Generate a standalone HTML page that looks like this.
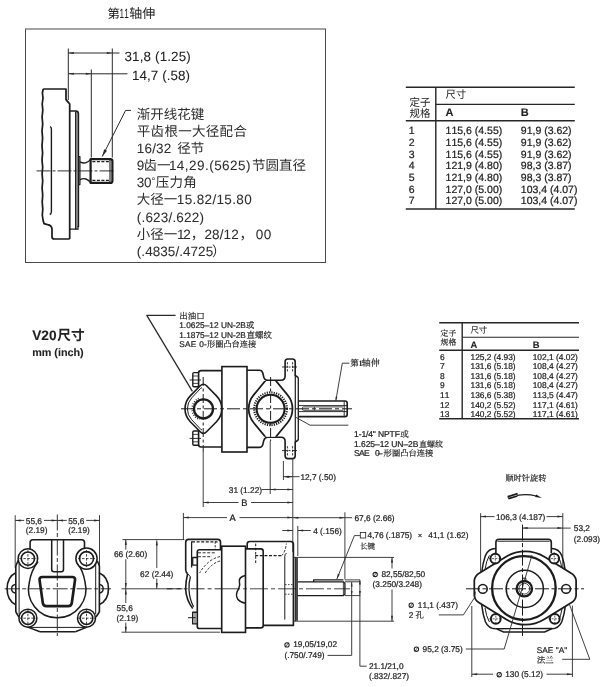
<!DOCTYPE html>
<html><head><meta charset="utf-8"><title>V20</title>
<style>
html,body{margin:0;padding:0;background:#fff;}
body{width:612px;height:687px;overflow:hidden;}
svg{display:block;will-change:transform;}
svg text{font-family:"Liberation Sans","Noto Sans CJK SC",sans-serif;font-kerning:none;text-rendering:geometricPrecision;}
svg text.s{font-family:"Liberation Sans","Noto Serif CJK SC",serif;}
</style></head><body>
<svg width="612" height="687" viewBox="0 0 612 687">
<rect width="612" height="687" fill="#fff"/>
<text x="107.5" y="17.6" font-size="12.4" fill="#222">第</text>
<text x="119.6" y="17.6" font-size="13.4" textLength="9.2" lengthAdjust="spacingAndGlyphs" fill="#222">11</text>
<text x="129.3" y="17.6" font-size="13" fill="#222">轴伸</text>
<rect x="25.5" y="29" width="300" height="233.5" rx="0" fill="none" stroke="#4a4a4a" stroke-width="1"/>
<line x1="68.3" y1="48.5" x2="68.3" y2="100" stroke="#2a2a2a" stroke-width="1"/>
<line x1="112.3" y1="48.5" x2="112.3" y2="157.5" stroke="#2a2a2a" stroke-width="1"/>
<line x1="91.3" y1="69.5" x2="91.3" y2="157.5" stroke="#2a2a2a" stroke-width="1"/>
<line x1="68.3" y1="53" x2="119.5" y2="53" stroke="#2a2a2a" stroke-width="1"/>
<polygon points="68.3,53 73.8,52 73.8,54" fill="#2a2a2a"/>
<polygon points="112.3,53 106.8,54 106.8,52" fill="#2a2a2a"/>
<line x1="68.3" y1="73.8" x2="127.5" y2="73.8" stroke="#2a2a2a" stroke-width="1"/>
<polygon points="68.3,73.8 73.8,72.8 73.8,74.8" fill="#2a2a2a"/>
<polygon points="91.3,73.8 85.8,74.8 85.8,72.8" fill="#2a2a2a"/>
<text x="124.5" y="60.61" font-size="13.4" letter-spacing="0.15" fill="#222" stroke="#222" stroke-width="0.05" xml:space="preserve">31,8 (1.25)</text>
<text x="132" y="79.81" font-size="13.4" letter-spacing="0.07" fill="#222" stroke="#222" stroke-width="0.05" xml:space="preserve">14,7 (.58)</text>
<path d="M43.2,89 L42.4,93 L43,98 L42.2,104 L42.8,110 L42.1,117 L42.7,124 L42,131 L42.6,138 L42,146 L42.6,153 L42,160 L42.7,167 L42.1,174 L42.7,181 L42.1,188 L42.7,195 L42.2,202 L42.8,209 L42.3,215 L43,220 L44,223.6 L47.5,224.6 Q51.8,225.2 52,229 L52,237 Q52,239 54.5,239 L69.7,239" fill="none" stroke="#1c1c1c" stroke-width="1.74" stroke-linejoin="round"/>
<path d="M43.2,89 H66 V99.6 L68.4,102.4 L69.7,104 V239" fill="none" stroke="#1c1c1c" stroke-width="1.74" stroke-linejoin="round"/>
<path d="M69.7,111 H75.8 Q78.3,111 78.3,113.5 V227 " fill="none" stroke="#1c1c1c" stroke-width="1.74" stroke-linejoin="round"/>
<path d="M75.8,111.5 V229.2 " fill="none" stroke="#1c1c1c" stroke-width="1.51" stroke-linejoin="round"/>
<path d="M69.7,229.2 H78 V226" fill="none" stroke="#1c1c1c" stroke-width="1.28" stroke-linejoin="round"/>
<path d="M50,126.6 Q51.4,127 51.4,129 V211.5 Q51.4,213.6 49.8,214.6" fill="none" stroke="#1c1c1c" stroke-width="1.39" stroke-linejoin="round"/>
<path d="M78.3,156.6 H79.9 V184.6 H78.3" fill="none" stroke="#1c1c1c" stroke-width="1.28" stroke-linejoin="round"/>
<path d="M79.9,161.8 Q83.5,163.6 86,162.6 Q88.5,161.8 90.6,159.4" fill="none" stroke="#1c1c1c" stroke-width="1.39" stroke-linejoin="round"/>
<path d="M79.9,179.6 Q83.5,178 86,179 Q88.5,179.8 90.6,182.6" fill="none" stroke="#1c1c1c" stroke-width="1.39" stroke-linejoin="round"/>
<path d="M90.6,159.1 H110.4 Q112.4,159.1 112.4,161.1 V180.9 Q112.4,182.9 110.4,182.9 H90.6 Z" fill="none" stroke="#1c1c1c" stroke-width="2.2" stroke-linejoin="round"/>
<line x1="92.4" y1="161.7" x2="109.5" y2="161.7" stroke="#1c1c1c" stroke-width="1.3" stroke-dasharray="3 1.5"/>
<line x1="92.4" y1="180.3" x2="109.5" y2="180.3" stroke="#1c1c1c" stroke-width="1.3" stroke-dasharray="3 1.5"/>
<line x1="110" y1="160" x2="110" y2="182" stroke="#1c1c1c" stroke-width="1.1"/>
<line x1="36.5" y1="170.9" x2="115.5" y2="170.9" stroke="#1c1c1c" stroke-width="0.9" stroke-dasharray="14 2 3 2"/>
<path d="M131,110.4 H125.6 L102.2,156.6" fill="none" stroke="#2a2a2a" stroke-width="1" stroke-linejoin="round"/>
<polygon points="102.2,156.6 104.16,149.19 107.02,150.63" fill="#2a2a2a"/>
<text x="136.8" y="118.64" font-size="13.5" fill="#2e2e2e">渐开线花键</text>
<text x="136.8" y="135.79" font-size="13.5" letter-spacing="0.3" fill="#2e2e2e">平齿根一大径配合</text>
<text x="136.8" y="152.94" font-size="13.5" letter-spacing="0.18" fill="#2e2e2e" stroke="#2e2e2e" stroke-width="0.05" xml:space="preserve">16/32</text>
<text x="177.3" y="152.94" font-size="13.5" fill="#2e2e2e">径节</text>
<text x="136.8" y="170.09" font-size="13.5" fill="#2e2e2e" stroke="#2e2e2e" stroke-width="0.05" xml:space="preserve">9</text>
<text x="143.4" y="170.09" font-size="13.5" fill="#2e2e2e">齿一</text>
<text x="168.9" y="170.09" font-size="13.5" letter-spacing="0.46" fill="#2e2e2e" stroke="#2e2e2e" stroke-width="0.05" xml:space="preserve">14,29.(5625)</text>
<text x="252" y="170.09" font-size="13.5" fill="#2e2e2e">节圆直径</text>
<text x="136.8" y="187.24" font-size="13.5" letter-spacing="-0.22" fill="#2e2e2e" stroke="#2e2e2e" stroke-width="0.05" xml:space="preserve">30</text>
<text x="151.4" y="183.8" font-size="9.5" fill="#222">°</text>
<text x="155.8" y="187.24" font-size="13.5" letter-spacing="0.2" fill="#2e2e2e">压力角</text>
<text x="136.8" y="204.39" font-size="13.5" fill="#2e2e2e">大径一</text>
<text x="176.8" y="204.39" font-size="13.5" letter-spacing="0.36" fill="#2e2e2e" stroke="#2e2e2e" stroke-width="0.05" xml:space="preserve">15.82/15.80</text>
<text x="136.8" y="221.54" font-size="13.5" letter-spacing="0.18" fill="#2e2e2e" stroke="#2e2e2e" stroke-width="0.05" xml:space="preserve">(.623/.622)</text>
<text x="136.8" y="238.69" font-size="13.5" fill="#2e2e2e">小径一</text>
<text x="177" y="238.69" font-size="13.5" letter-spacing="-1.22" fill="#2e2e2e" stroke="#2e2e2e" stroke-width="0.05" xml:space="preserve">12</text>
<text x="190.8" y="238.69" font-size="13.5" fill="#2e2e2e">，</text>
<text x="204.5" y="238.69" font-size="13.5" letter-spacing="0.1" fill="#2e2e2e" stroke="#2e2e2e" stroke-width="0.05" xml:space="preserve">28/12</text>
<text x="239.5" y="238.69" font-size="13.5" fill="#2e2e2e">，</text>
<text x="255.7" y="238.69" font-size="13.5" letter-spacing="0.58" fill="#2e2e2e" stroke="#2e2e2e" stroke-width="0.05" xml:space="preserve">00</text>
<text x="136.8" y="255.84" font-size="13.5" letter-spacing="0.05" fill="#2e2e2e" stroke="#2e2e2e" stroke-width="0.05" xml:space="preserve">(.4835/.4725</text>
<text x="212" y="255.84" font-size="13.5" fill="#2e2e2e">）</text>
<line x1="405.8" y1="87.2" x2="574.8" y2="87.2" stroke="#262626" stroke-width="1.4"/>
<line x1="435.8" y1="104.4" x2="574.8" y2="104.4" stroke="#262626" stroke-width="1.1"/>
<line x1="405.8" y1="120.8" x2="574.8" y2="120.8" stroke="#262626" stroke-width="1.6"/>
<line x1="405.8" y1="209" x2="574.8" y2="209" stroke="#262626" stroke-width="1.5"/>
<line x1="435.8" y1="87.2" x2="435.8" y2="209" stroke="#262626" stroke-width="1.4"/>
<text x="408.7" y="134.11" font-size="10.5" fill="#222" stroke="#222" stroke-width="0.22" xml:space="preserve">1</text>
<text x="445.6" y="134.11" font-size="10.5" fill="#222" stroke="#222" stroke-width="0.22" xml:space="preserve">115,6 (4.55)</text>
<text x="520.8" y="134.11" font-size="10.5" fill="#222" stroke="#222" stroke-width="0.22" xml:space="preserve">91,9 (3.62)</text>
<text x="408.7" y="145.83" font-size="10.5" fill="#222" stroke="#222" stroke-width="0.22" xml:space="preserve">2</text>
<text x="445.6" y="145.83" font-size="10.5" fill="#222" stroke="#222" stroke-width="0.22" xml:space="preserve">115,6 (4.55)</text>
<text x="520.8" y="145.83" font-size="10.5" fill="#222" stroke="#222" stroke-width="0.22" xml:space="preserve">91,9 (3.62)</text>
<text x="408.7" y="157.55" font-size="10.5" fill="#222" stroke="#222" stroke-width="0.22" xml:space="preserve">3</text>
<text x="445.6" y="157.55" font-size="10.5" fill="#222" stroke="#222" stroke-width="0.22" xml:space="preserve">115,6 (4.55)</text>
<text x="520.8" y="157.55" font-size="10.5" fill="#222" stroke="#222" stroke-width="0.22" xml:space="preserve">91,9 (3.62)</text>
<text x="408.7" y="169.27" font-size="10.5" fill="#222" stroke="#222" stroke-width="0.22" xml:space="preserve">4</text>
<text x="445.6" y="169.27" font-size="10.5" fill="#222" stroke="#222" stroke-width="0.22" xml:space="preserve">121,9 (4.80)</text>
<text x="520.8" y="169.27" font-size="10.5" fill="#222" stroke="#222" stroke-width="0.22" xml:space="preserve">98,3 (3.87)</text>
<text x="408.7" y="180.99" font-size="10.5" fill="#222" stroke="#222" stroke-width="0.22" xml:space="preserve">5</text>
<text x="445.6" y="180.99" font-size="10.5" fill="#222" stroke="#222" stroke-width="0.22" xml:space="preserve">121,9 (4.80)</text>
<text x="520.8" y="180.99" font-size="10.5" fill="#222" stroke="#222" stroke-width="0.22" xml:space="preserve">98,3 (3.87)</text>
<text x="408.7" y="192.71" font-size="10.5" fill="#222" stroke="#222" stroke-width="0.22" xml:space="preserve">6</text>
<text x="445.6" y="192.71" font-size="10.5" fill="#222" stroke="#222" stroke-width="0.22" xml:space="preserve">127,0 (5.00)</text>
<text x="520.8" y="192.71" font-size="10.5" fill="#222" stroke="#222" stroke-width="0.22" xml:space="preserve">103,4 (4.07)</text>
<text x="408.7" y="204.43" font-size="10.5" fill="#222" stroke="#222" stroke-width="0.22" xml:space="preserve">7</text>
<text x="445.6" y="204.43" font-size="10.5" fill="#222" stroke="#222" stroke-width="0.22" xml:space="preserve">127,0 (5.00)</text>
<text x="520.8" y="204.43" font-size="10.5" fill="#222" stroke="#222" stroke-width="0.22" xml:space="preserve">103,4 (4.07)</text>
<text x="445.4" y="98" font-size="10.3" letter-spacing="0.4" fill="#222">尺寸</text>
<text x="409.6" y="106.1" font-size="10.5" fill="#222">定子</text>
<text x="409.6" y="116.9" font-size="10.5" fill="#222">规格</text>
<text x="445.6" y="115.98" font-size="11" font-weight="bold" fill="#222" stroke="#222" stroke-width="0.1" xml:space="preserve">A</text>
<text x="520.8" y="115.98" font-size="11" font-weight="bold" fill="#222" stroke="#222" stroke-width="0.1" xml:space="preserve">B</text>
<line x1="439.2" y1="322.8" x2="579" y2="322.8" stroke="#262626" stroke-width="1.4"/>
<line x1="462.2" y1="337.2" x2="579" y2="337.2" stroke="#262626" stroke-width="1.1"/>
<line x1="439.2" y1="350.3" x2="579" y2="350.3" stroke="#262626" stroke-width="1.6"/>
<line x1="439.2" y1="418.8" x2="579" y2="418.8" stroke="#262626" stroke-width="1.5"/>
<line x1="462.2" y1="322.8" x2="462.2" y2="418.8" stroke="#262626" stroke-width="1.4"/>
<text x="440" y="359.69" font-size="8.4" fill="#222" stroke="#222" stroke-width="0.22" xml:space="preserve">6</text>
<text x="470.5" y="359.69" font-size="8.4" fill="#222" stroke="#222" stroke-width="0.22" xml:space="preserve">125,2 (4.93)</text>
<text x="532.7" y="359.69" font-size="8.4" fill="#222" stroke="#222" stroke-width="0.22" xml:space="preserve">102,1 (4.02)</text>
<text x="440" y="369.27" font-size="8.4" fill="#222" stroke="#222" stroke-width="0.22" xml:space="preserve">7</text>
<text x="470.5" y="369.27" font-size="8.4" fill="#222" stroke="#222" stroke-width="0.22" xml:space="preserve">131,6 (5.18)</text>
<text x="532.7" y="369.27" font-size="8.4" fill="#222" stroke="#222" stroke-width="0.22" xml:space="preserve">108,4 (4.27)</text>
<text x="440" y="378.85" font-size="8.4" fill="#222" stroke="#222" stroke-width="0.22" xml:space="preserve">8</text>
<text x="470.5" y="378.85" font-size="8.4" fill="#222" stroke="#222" stroke-width="0.22" xml:space="preserve">131,6 (5.18)</text>
<text x="532.7" y="378.85" font-size="8.4" fill="#222" stroke="#222" stroke-width="0.22" xml:space="preserve">108,4 (4.27)</text>
<text x="440" y="388.43" font-size="8.4" fill="#222" stroke="#222" stroke-width="0.22" xml:space="preserve">9</text>
<text x="470.5" y="388.43" font-size="8.4" fill="#222" stroke="#222" stroke-width="0.22" xml:space="preserve">131,6 (5.18)</text>
<text x="532.7" y="388.43" font-size="8.4" fill="#222" stroke="#222" stroke-width="0.22" xml:space="preserve">108,4 (4.27)</text>
<text x="440" y="398.01" font-size="8.4" fill="#222" stroke="#222" stroke-width="0.22" xml:space="preserve">11</text>
<text x="470.5" y="398.01" font-size="8.4" fill="#222" stroke="#222" stroke-width="0.22" xml:space="preserve">136,6 (5.38)</text>
<text x="532.7" y="398.01" font-size="8.4" fill="#222" stroke="#222" stroke-width="0.22" xml:space="preserve">113,5 (4.47)</text>
<text x="440" y="407.59" font-size="8.4" fill="#222" stroke="#222" stroke-width="0.22" xml:space="preserve">12</text>
<text x="470.5" y="407.59" font-size="8.4" fill="#222" stroke="#222" stroke-width="0.22" xml:space="preserve">140,2 (5.52)</text>
<text x="532.7" y="407.59" font-size="8.4" fill="#222" stroke="#222" stroke-width="0.22" xml:space="preserve">117,1 (4.61)</text>
<text x="440" y="417.17" font-size="8.4" fill="#222" stroke="#222" stroke-width="0.22" xml:space="preserve">13</text>
<text x="470.5" y="417.17" font-size="8.4" fill="#222" stroke="#222" stroke-width="0.22" xml:space="preserve">140,2 (5.52)</text>
<text x="532.7" y="417.17" font-size="8.4" fill="#222" stroke="#222" stroke-width="0.22" xml:space="preserve">117,1 (4.61)</text>
<text class="s" x="470.5" y="333.2" font-size="8.4" fill="#222" stroke="#222" stroke-width="0.18">尺寸</text>
<text class="s" x="440.6" y="335.6" font-size="7.9" fill="#222" stroke="#222" stroke-width="0.18">定子</text>
<text class="s" x="440.6" y="344.8" font-size="7.9" fill="#222" stroke="#222" stroke-width="0.18">规格</text>
<text x="470.5" y="347.63" font-size="9.4" font-weight="bold" fill="#222" stroke="#222" stroke-width="0.1" xml:space="preserve">A</text>
<text x="532.7" y="347.63" font-size="9.4" font-weight="bold" fill="#222" stroke="#222" stroke-width="0.1" xml:space="preserve">B</text>
<text x="32.2" y="340.01" font-size="13.7" font-weight="bold" fill="#222" stroke="#222" stroke-width="0.1" xml:space="preserve">V20</text>
<text x="57.3" y="340.01" font-size="13.7" font-weight="bold" fill="#222">尺寸</text>
<text x="32.2" y="356.12" font-size="10.8" font-weight="bold" letter-spacing="-0.01" fill="#222" stroke="#222" stroke-width="0.1" xml:space="preserve">mm (inch)</text>
<rect x="221.9" y="366.6" width="25.1" height="85.4" rx="0" fill="none" stroke="#1c1c1c" stroke-width="1.62"/>
<path d="M221.9,370.6 H201 Q198.6,370.6 198.6,373 V444.6 Q198.6,447 201,447 H221.9" fill="none" stroke="#1c1c1c" stroke-width="1.62" stroke-linejoin="round"/>
<path d="M198.6,372.6 H194 Q192.8,372.6 192.8,373.8 V385.6 Q192.8,386.8 194,386.8 H198.6" fill="none" stroke="#1c1c1c" stroke-width="1.39" stroke-linejoin="round"/>
<line x1="192.8" y1="376" x2="198.6" y2="376" stroke="#1c1c1c" stroke-width="0.8"/>
<line x1="192.8" y1="383.4" x2="198.6" y2="383.4" stroke="#1c1c1c" stroke-width="0.8"/>
<line x1="189.6" y1="380" x2="201" y2="380" stroke="#1c1c1c" stroke-width="0.9"/>
<path d="M198.6,431.0 H194 Q192.8,431.0 192.8,432.2 V444.0 Q192.8,445.2 194,445.2 H198.6" fill="none" stroke="#1c1c1c" stroke-width="1.39" stroke-linejoin="round"/>
<line x1="192.8" y1="434.4" x2="198.6" y2="434.4" stroke="#1c1c1c" stroke-width="0.8"/>
<line x1="192.8" y1="441.8" x2="198.6" y2="441.8" stroke="#1c1c1c" stroke-width="0.8"/>
<line x1="189.6" y1="438.4" x2="201" y2="438.4" stroke="#1c1c1c" stroke-width="0.9"/>
<path d="M200.24,385.8 Q203.4,382.6 206.56,385.8 L216.5,395.88 A18.4,18.4 0 0 1 216.5,421.72 L206.56,431.8 Q203.4,435 200.24,431.8 L190.3,421.72 A18.4,18.4 0 0 1 190.3,395.88 Z" fill="#fff" stroke="#1c1c1c" stroke-width="1.62" stroke-linejoin="round"/>
<clipPath id="cl1"><rect x="180" y="380" width="22" height="60"/></clipPath><g clip-path="url(#cl1)">
<path d="M200.66,388.32 Q203.4,385.4 206.14,388.32 L215.08,397.86 A16,16 0 0 1 215.08,419.74 L206.14,429.28 Q203.4,432.2 200.66,429.28 L191.72,419.74 A16,16 0 0 1 191.72,397.86 Z" fill="none" stroke="#1c1c1c" stroke-width="1.0" stroke-linejoin="round"/>
</g>
<circle cx="203.5" cy="408.9" r="9.5" fill="none" stroke="#1c1c1c" stroke-width="2.32"/>
<path d="M198.64,398.38 A11.5,11.5 0 0 0 199.57,419.61" fill="none" stroke="#1c1c1c" stroke-width="1.51" stroke-linejoin="round" stroke-dasharray="0.9 1.5"/>
<path d="M247,370.2 H259.4 Q262,370.2 262.8,373 L263.8,377.2 Q264.8,380.3 267.6,380.3 H281 Q285.1,380.3 285.1,376 V361.8 Q285.1,359 287.8,359 H292.4 Q295.2,359 295.2,361.8 V375.4 L298.3,377.6" fill="none" stroke="#1c1c1c" stroke-width="1.62" stroke-linejoin="round"/>
<line x1="287.4" y1="362.2" x2="287.4" y2="372.4" stroke="#1c1c1c" stroke-width="0.9" stroke-dasharray="2.2 1.3"/>
<line x1="292.6" y1="362.2" x2="292.6" y2="372.4" stroke="#1c1c1c" stroke-width="0.9" stroke-dasharray="2.2 1.3"/>
<line x1="282" y1="367" x2="298" y2="367" stroke="#1c1c1c" stroke-width="0.9" stroke-dasharray="5 1.5 2 1.5"/>
<path d="M247,447.4 H259.4 Q262,447.4 262.8,444.6 L263.8,440.4 Q264.8,437.3 267.6,437.3 H281 Q285.1,437.3 285.1,441.6 V455.8 Q285.1,458.6 287.8,458.6 H292.4 Q295.2,458.6 295.2,455.8 V442.2 L298.3,440" fill="none" stroke="#1c1c1c" stroke-width="1.62" stroke-linejoin="round"/>
<line x1="287.4" y1="455.4" x2="287.4" y2="445.2" stroke="#1c1c1c" stroke-width="0.9" stroke-dasharray="2.2 1.3"/>
<line x1="292.6" y1="455.4" x2="292.6" y2="445.2" stroke="#1c1c1c" stroke-width="0.9" stroke-dasharray="2.2 1.3"/>
<line x1="282" y1="450.6" x2="298" y2="450.6" stroke="#1c1c1c" stroke-width="0.9" stroke-dasharray="5 1.5 2 1.5"/>
<line x1="298.3" y1="377.6" x2="298.3" y2="440" stroke="#1c1c1c" stroke-width="1.3"/>
<line x1="295.3" y1="375" x2="295.3" y2="442.6" stroke="#1c1c1c" stroke-width="1.2"/>
<clipPath id="cl2"><rect x="240" y="380.9" width="60" height="55.8"/></clipPath><g clip-path="url(#cl2)">
<path d="M269.96,375.17 Q270.6,374.4 271.24,375.17 L287.49,394.86 A21.9,21.9 0 0 1 287.49,422.74 L271.24,442.43 Q270.6,443.2 269.96,442.43 L253.71,422.74 A21.9,21.9 0 0 1 253.71,394.86 Z" fill="#fff" stroke="#1c1c1c" stroke-width="1.74" stroke-linejoin="round"/>
</g>
<circle cx="270.6" cy="408.8" r="14" fill="none" stroke="#1c1c1c" stroke-width="2.09"/>
<circle cx="270.6" cy="408.8" r="16.4" fill="none" stroke="#1c1c1c" stroke-width="2.09" stroke-dasharray="1.2 1.15"/>
<path d="M298.6,401 H345 Q347.2,401 347.2,403.2 V414.4 Q347.2,416.6 345,416.6 H298.6" fill="none" stroke="#1c1c1c" stroke-width="1.62" stroke-linejoin="round"/>
<line x1="298.6" y1="405.6" x2="347" y2="405.6" stroke="#1c1c1c" stroke-width="0.9"/>
<line x1="298.6" y1="411.6" x2="347" y2="411.6" stroke="#1c1c1c" stroke-width="0.9"/>
<line x1="344.2" y1="401.3" x2="344.2" y2="416.3" stroke="#1c1c1c" stroke-width="0.9"/>
<path d="M343,406.9 H303.6 Q302.4,406.9 302.4,408 V409.2 Q302.4,410.3 303.6,410.3 H343" fill="none" stroke="#1c1c1c" stroke-width="0.8" stroke-linejoin="round"/>
<line x1="314.3" y1="406.9" x2="314.3" y2="410.3" stroke="#1c1c1c" stroke-width="0.8"/>
<line x1="181" y1="408.8" x2="352" y2="408.8" stroke="#1c1c1c" stroke-width="1" stroke-dasharray="13 3 4 3"/>
<line x1="203.2" y1="377" x2="203.2" y2="452" stroke="#1c1c1c" stroke-width="1" stroke-dasharray="9 2.5 3 2.5"/>
<line x1="270.6" y1="377" x2="270.6" y2="441" stroke="#1c1c1c" stroke-width="1" stroke-dasharray="9 2.5 3 2.5"/>
<path d="M175.6,315.3 H146.8 L192.4,391.4" fill="none" stroke="#2a2a2a" stroke-width="1.28" stroke-linejoin="round"/>
<path d="M335.8,400.8 L342.3,363.2 H349.4" fill="none" stroke="#2a2a2a" stroke-width="0.9" stroke-linejoin="round"/>
<polygon points="335.8,400.8 335.59,396.71 337.37,397.01" fill="#2a2a2a"/>
<path d="M296,417.4 L310,425.2 H348.4" fill="none" stroke="#2a2a2a" stroke-width="0.9" stroke-linejoin="round"/>
<line x1="203.2" y1="452" x2="203.2" y2="507" stroke="#2a2a2a" stroke-width="0.9"/>
<line x1="270.2" y1="441" x2="270.2" y2="494" stroke="#2a2a2a" stroke-width="0.9"/>
<line x1="283.4" y1="461" x2="283.4" y2="480" stroke="#2a2a2a" stroke-width="0.9"/>
<line x1="292.8" y1="459" x2="292.8" y2="552" stroke="#2a2a2a" stroke-width="0.9"/>
<line x1="283.4" y1="476.7" x2="299.5" y2="476.7" stroke="#2a2a2a" stroke-width="0.9"/>
<polygon points="283.4,476.7 288.8,475.7 288.8,477.7" fill="#2a2a2a"/>
<polygon points="292.8,476.7 287.4,477.7 287.4,475.7" fill="#2a2a2a"/>
<text x="300.4" y="480.06" font-size="8.3" fill="#222" stroke="#222" stroke-width="0.22" xml:space="preserve">12,7 (.50)</text>
<line x1="261.5" y1="489.5" x2="292.8" y2="489.5" stroke="#2a2a2a" stroke-width="0.9"/>
<polygon points="270.2,489.5 275.6,488.5 275.6,490.5" fill="#2a2a2a"/>
<polygon points="292.8,489.5 287.4,490.5 287.4,488.5" fill="#2a2a2a"/>
<text x="228.8" y="492.66" font-size="8.3" fill="#222" stroke="#222" stroke-width="0.22" xml:space="preserve">31 (1.22)</text>
<line x1="203.2" y1="502.5" x2="238.5" y2="502.5" stroke="#2a2a2a" stroke-width="0.9"/>
<line x1="251" y1="502.5" x2="292.8" y2="502.5" stroke="#2a2a2a" stroke-width="0.9"/>
<polygon points="203.2,502.5 208.6,501.5 208.6,503.5" fill="#2a2a2a"/>
<polygon points="292.8,502.5 287.4,503.5 287.4,501.5" fill="#2a2a2a"/>
<text x="241.3" y="506.1" font-size="9.3" fill="#222" stroke="#222" stroke-width="0.22" xml:space="preserve">B</text>
<line x1="183.4" y1="517.6" x2="227" y2="517.6" stroke="#2a2a2a" stroke-width="0.9"/>
<line x1="239.5" y1="517.6" x2="292.8" y2="517.6" stroke="#2a2a2a" stroke-width="0.9"/>
<polygon points="183.4,517.6 188.8,516.6 188.8,518.6" fill="#2a2a2a"/>
<polygon points="292.8,517.6 287.4,518.6 287.4,516.6" fill="#2a2a2a"/>
<text x="229.5" y="521.1" font-size="9.3" fill="#222" stroke="#222" stroke-width="0.22" xml:space="preserve">A</text>
<line x1="183.4" y1="513" x2="183.4" y2="540" stroke="#2a2a2a" stroke-width="0.9"/>
<text class="s" x="179.2" y="319.2" font-size="8.5" fill="#222" stroke="#222" stroke-width="0.18">出油口</text>
<text x="179.2" y="328.36" font-size="8.3" letter-spacing="0.02" fill="#222" stroke="#222" stroke-width="0.22" xml:space="preserve">1.0625–12 UN-2B</text>
<text class="s" x="246" y="328.36" font-size="8.3" fill="#222" stroke="#222" stroke-width="0.18">或</text>
<text x="179.2" y="337.56" font-size="8.3" letter-spacing="0.02" fill="#222" stroke="#222" stroke-width="0.22" xml:space="preserve">1.1875–12 UN-2B</text>
<text class="s" x="246.6" y="337.56" font-size="8.5" fill="#222" stroke="#222" stroke-width="0.18">直螺纹</text>
<text x="179.2" y="346.76" font-size="8.3" letter-spacing="0.26" fill="#222" stroke="#222" stroke-width="0.22" xml:space="preserve">SAE 0-</text>
<text class="s" x="207" y="346.76" font-size="8.2" fill="#222" stroke="#222" stroke-width="0.18">形圈凸台连接</text>
<text class="s" x="350.3" y="366.2" font-size="8.6" fill="#222" stroke="#222" stroke-width="0.18">第</text>
<text x="358.4" y="366.2" font-size="8.4" font-weight="bold" style="font-family:'Liberation Serif',serif" fill="#222">1</text>
<text class="s" x="361.8" y="366.2" font-size="9" fill="#222" stroke="#222" stroke-width="0.18">轴伸</text>
<text x="354.1" y="437.22" font-size="8.5" letter-spacing="-0.12" fill="#222" stroke="#222" stroke-width="0.22" xml:space="preserve">1-1/4" NPTF</text>
<text class="s" x="400.2" y="437.22" font-size="8.5" fill="#222" stroke="#222" stroke-width="0.18">或</text>
<text x="354.1" y="446.62" font-size="8.5" letter-spacing="-0.07" fill="#222" stroke="#222" stroke-width="0.22" xml:space="preserve">1.625–12 UN–2B</text>
<text class="s" x="418.9" y="446.62" font-size="8" fill="#222" stroke="#222" stroke-width="0.18">直螺纹</text>
<text x="354.1" y="455.82" font-size="8.5" letter-spacing="-0.75" fill="#222" stroke="#222" stroke-width="0.22" xml:space="preserve">SAE</text>
<text x="374.9" y="455.82" font-size="8.5" letter-spacing="-1.75" fill="#222" stroke="#222" stroke-width="0.22" xml:space="preserve">0–</text>
<text class="s" x="383.6" y="455.82" font-size="8.3" fill="#222" stroke="#222" stroke-width="0.18">形圈凸台连接</text>
<line x1="15.2" y1="515.2" x2="15.2" y2="568" stroke="#2a2a2a" stroke-width="0.9"/>
<line x1="99.5" y1="515.2" x2="99.5" y2="568" stroke="#2a2a2a" stroke-width="0.9"/>
<line x1="57.3" y1="514.5" x2="57.3" y2="636" stroke="#1c1c1c" stroke-width="0.9" stroke-dasharray="16 2.5 4 2.5"/>
<line x1="15.2" y1="520.4" x2="24.2" y2="520.4" stroke="#2a2a2a" stroke-width="0.9"/>
<line x1="44" y1="520.4" x2="57.3" y2="520.4" stroke="#2a2a2a" stroke-width="0.9"/>
<line x1="57.3" y1="520.4" x2="66.8" y2="520.4" stroke="#2a2a2a" stroke-width="0.9"/>
<line x1="86.2" y1="520.4" x2="99.5" y2="520.4" stroke="#2a2a2a" stroke-width="0.9"/>
<polygon points="15.2,520.4 20.6,519.4 20.6,521.4" fill="#2a2a2a"/>
<polygon points="57,520.4 51.6,521.4 51.6,519.4" fill="#2a2a2a"/>
<polygon points="57.6,520.4 63,519.4 63,521.4" fill="#2a2a2a"/>
<polygon points="99.5,520.4 94.1,521.4 94.1,519.4" fill="#2a2a2a"/>
<text x="25.8" y="523.76" font-size="8.3" fill="#222" stroke="#222" stroke-width="0.22" xml:space="preserve">55,6</text>
<text x="25.8" y="532.56" font-size="8.3" fill="#222" stroke="#222" stroke-width="0.22" xml:space="preserve">(2.19)</text>
<text x="68.2" y="523.76" font-size="8.3" fill="#222" stroke="#222" stroke-width="0.22" xml:space="preserve">55,6</text>
<text x="68.2" y="532.56" font-size="8.3" fill="#222" stroke="#222" stroke-width="0.22" xml:space="preserve">(2.19)</text>
<path d="M30.1,549.2 V542.6 Q30.1,539.8 32.9,539.8 H81.7 Q84.5,539.8 84.5,542.6 V549.2" fill="none" stroke="#1c1c1c" stroke-width="1.62" stroke-linejoin="round"/>
<path d="M51.7,539.8 V569.6 Q51.7,571.8 53.9,571.8 H61.3 Q63.5,571.8 63.5,569.6 V539.8" fill="none" stroke="#1c1c1c" stroke-width="1.51" stroke-linejoin="round"/>
<path d="M15.8,566 V612" fill="none" stroke="#1c1c1c" stroke-width="1.62" stroke-linejoin="round"/>
<path d="M99.4,566 V612" fill="none" stroke="#1c1c1c" stroke-width="1.62" stroke-linejoin="round"/>
<path d="M19.1,563.6 V614" fill="none" stroke="#1c1c1c" stroke-width="1.0" stroke-linejoin="round"/>
<path d="M95.7,563.6 V614" fill="none" stroke="#1c1c1c" stroke-width="1.0" stroke-linejoin="round"/>
<path d="M15.8,572.8 Q7.1,577 7.1,588.8 Q7.1,600.6 15.8,604.8" fill="none" stroke="#1c1c1c" stroke-width="1.62" stroke-linejoin="round"/>
<path d="M99,572.8 Q108.5,577 108.5,588.8 Q108.5,600.6 99,604.8" fill="none" stroke="#1c1c1c" stroke-width="1.62" stroke-linejoin="round"/>
<path d="M15.8,584.4 Q11.6,585 11.6,588.8 Q11.6,592.6 15.8,593.2" fill="none" stroke="#1c1c1c" stroke-width="1.39" stroke-linejoin="round"/>
<path d="M99,584.4 Q103.2,585 103.2,588.8 Q103.2,592.6 99,593.2" fill="none" stroke="#1c1c1c" stroke-width="1.39" stroke-linejoin="round"/>
<path d="M38,561.5 Q31,571 29.4,582 A28.7,28.7 0 1 0 85,582 Q83.4,571 76.4,561.5" fill="none" stroke="#1c1c1c" stroke-width="1.51" stroke-linejoin="round"/>
<path d="M40,631.8 H75.4" fill="none" stroke="#1c1c1c" stroke-width="1.62" stroke-linejoin="round"/>
<path d="M28.4,627.4 L40,631.8" fill="none" stroke="#1c1c1c" stroke-width="1.51" stroke-linejoin="round"/>
<path d="M86.4,627.4 L75.4,631.8" fill="none" stroke="#1c1c1c" stroke-width="1.51" stroke-linejoin="round"/>
<path d="M28,627.4 H87" fill="none" stroke="#1c1c1c" stroke-width="1.0" stroke-linejoin="round"/>
<path d="M15.8,566 L18.4,560" fill="none" stroke="#1c1c1c" stroke-width="1.62" stroke-linejoin="round"/>
<path d="M99.4,566 L97.4,561" fill="none" stroke="#1c1c1c" stroke-width="1.62" stroke-linejoin="round"/>
<path d="M15.8,612 L19,617" fill="none" stroke="#1c1c1c" stroke-width="1.62" stroke-linejoin="round"/>
<path d="M99.4,612 L96,617" fill="none" stroke="#1c1c1c" stroke-width="1.62" stroke-linejoin="round"/>
<circle cx="27.9" cy="558.6" r="9.8" fill="#fff" stroke="#1c1c1c" stroke-width="1.51"/>
<circle cx="27.9" cy="558.6" r="6.6" fill="none" stroke="#1c1c1c" stroke-width="1.62"/>
<line x1="19.4" y1="558.6" x2="36.4" y2="558.6" stroke="#1c1c1c" stroke-width="0.8" stroke-dasharray="2.5 1.5"/>
<line x1="27.9" y1="550.1" x2="27.9" y2="567.1" stroke="#1c1c1c" stroke-width="0.8" stroke-dasharray="2.5 1.5"/>
<circle cx="86.5" cy="558.6" r="10.6" fill="#fff" stroke="#1c1c1c" stroke-width="1.51"/>
<circle cx="86.5" cy="558.6" r="7" fill="none" stroke="#1c1c1c" stroke-width="1.62"/>
<line x1="78" y1="558.6" x2="95" y2="558.6" stroke="#1c1c1c" stroke-width="0.8" stroke-dasharray="2.5 1.5"/>
<line x1="86.5" y1="550.1" x2="86.5" y2="567.1" stroke="#1c1c1c" stroke-width="0.8" stroke-dasharray="2.5 1.5"/>
<circle cx="27.9" cy="618.2" r="9" fill="#fff" stroke="#1c1c1c" stroke-width="1.51"/>
<circle cx="27.9" cy="618.2" r="6.3" fill="none" stroke="#1c1c1c" stroke-width="1.62"/>
<line x1="19.4" y1="618.2" x2="36.4" y2="618.2" stroke="#1c1c1c" stroke-width="0.8" stroke-dasharray="2.5 1.5"/>
<line x1="27.9" y1="609.7" x2="27.9" y2="626.7" stroke="#1c1c1c" stroke-width="0.8" stroke-dasharray="2.5 1.5"/>
<circle cx="86.5" cy="618.2" r="9" fill="#fff" stroke="#1c1c1c" stroke-width="1.51"/>
<circle cx="86.5" cy="618.2" r="6.3" fill="none" stroke="#1c1c1c" stroke-width="1.62"/>
<line x1="78" y1="618.2" x2="95" y2="618.2" stroke="#1c1c1c" stroke-width="0.8" stroke-dasharray="2.5 1.5"/>
<line x1="86.5" y1="609.7" x2="86.5" y2="626.7" stroke="#1c1c1c" stroke-width="0.8" stroke-dasharray="2.5 1.5"/>
<path d="M42.4,577 H72.2 Q75.6,577 75,580.2 L71.8,603 Q71.3,606.1 68.2,606.1 H46.4 Q43.3,606.1 42.8,603 L39.6,580.2 Q39,577 42.4,577 Z" fill="none" stroke="#1c1c1c" stroke-width="2.67" stroke-linejoin="round"/>
<line x1="4.7" y1="588.8" x2="111" y2="588.8" stroke="#1c1c1c" stroke-width="0.9" stroke-dasharray="15 2.5 4 2.5"/>
<line x1="122.5" y1="539.6" x2="184.4" y2="539.6" stroke="#2a2a2a" stroke-width="0.9"/>
<line x1="121.5" y1="588.8" x2="166.6" y2="588.8" stroke="#2a2a2a" stroke-width="0.9"/>
<line x1="166.6" y1="588.8" x2="185" y2="588.8" stroke="#1c1c1c" stroke-width="0.9" stroke-dasharray="6 4"/>
<line x1="121.5" y1="632.2" x2="220" y2="632.2" stroke="#2a2a2a" stroke-width="0.9"/>
<line x1="125.8" y1="539.6" x2="125.8" y2="549.6" stroke="#2a2a2a" stroke-width="0.9"/>
<line x1="125.8" y1="559.2" x2="125.8" y2="588.8" stroke="#2a2a2a" stroke-width="0.9"/>
<polygon points="125.8,539.6 126.8,545 124.8,545" fill="#2a2a2a"/>
<polygon points="125.8,588.5 124.8,583.1 126.8,583.1" fill="#2a2a2a"/>
<line x1="125.8" y1="588.8" x2="125.8" y2="603" stroke="#2a2a2a" stroke-width="0.9"/>
<line x1="125.8" y1="622.6" x2="125.8" y2="632.2" stroke="#2a2a2a" stroke-width="0.9"/>
<polygon points="125.8,589.1 126.8,594.5 124.8,594.5" fill="#2a2a2a"/>
<polygon points="125.8,632.2 124.8,626.8 126.8,626.8" fill="#2a2a2a"/>
<text x="114" y="557.26" font-size="8.3" fill="#222" stroke="#222" stroke-width="0.22" xml:space="preserve">66 (2.60)</text>
<text x="116.6" y="611.16" font-size="8.3" fill="#222" stroke="#222" stroke-width="0.22" xml:space="preserve">55,6</text>
<text x="116.6" y="620.56" font-size="8.3" fill="#222" stroke="#222" stroke-width="0.22" xml:space="preserve">(2.19)</text>
<line x1="156.8" y1="540.5" x2="156.8" y2="568" stroke="#2a2a2a" stroke-width="0.9"/>
<line x1="156.8" y1="578.6" x2="156.8" y2="588.8" stroke="#2a2a2a" stroke-width="0.9"/>
<polygon points="156.8,540.2 157.8,545.6 155.8,545.6" fill="#2a2a2a"/>
<polygon points="156.8,588.5 155.8,583.1 157.8,583.1" fill="#2a2a2a"/>
<text x="140.1" y="577.06" font-size="8.3" fill="#222" stroke="#222" stroke-width="0.22" xml:space="preserve">62 (2.44)</text>
<path d="M220.5,549.5 V542.2 Q220.5,539.4 217.7,539.4 H188.6 Q185.7,539.4 185.7,542.4 V570 Q186,572.6 187.6,573.6" fill="none" stroke="#1c1c1c" stroke-width="1.62" stroke-linejoin="round"/>
<path d="M187.6,573.6 Q185.8,581 185.6,589 Q186.2,600 192.7,608.4" fill="none" stroke="#1c1c1c" stroke-width="1.62" stroke-linejoin="round"/>
<path d="M190.4,576.8 Q188.6,583 189,590 Q189.6,599.5 193.6,606.9" fill="none" stroke="#1c1c1c" stroke-width="1.28" stroke-linejoin="round"/>
<path d="M191.6,541.3 V567.5" fill="none" stroke="#1c1c1c" stroke-width="1.28" stroke-linejoin="round"/>
<path d="M187.6,573.6 L190.4,576.8" fill="none" stroke="#1c1c1c" stroke-width="1.0" stroke-linejoin="round"/>
<path d="M221.7,549.8 H199.6 Q197.3,549.8 197.3,552 V626.4 Q197.3,628.5 199.6,628.5 H221.7" fill="none" stroke="#1c1c1c" stroke-width="1.62" stroke-linejoin="round"/>
<rect x="221.7" y="546.2" width="23.8" height="86.2" rx="0" fill="#fff" stroke="#1c1c1c" stroke-width="1.62"/>
<path d="M245.5,575.4 Q238.6,577 239.4,581.4 Q240.4,585 238.6,589 Q234.6,594.6 238,599.6 Q240.6,602.6 245.5,603.2" fill="none" stroke="#1c1c1c" stroke-width="1.51" stroke-linejoin="round"/>
<path d="M197.3,557.5 H192.7 V565.2 H197.3" fill="none" stroke="#1c1c1c" stroke-width="1.28" stroke-linejoin="round"/>
<path d="M197.3,612.3 H192.7 V623.9 H197.3" fill="none" stroke="#1c1c1c" stroke-width="1.39" stroke-linejoin="round"/>
<line x1="195" y1="612.3" x2="195" y2="623.9" stroke="#1c1c1c" stroke-width="0.8"/>
<line x1="188" y1="617.7" x2="195.6" y2="617.7" stroke="#1c1c1c" stroke-width="1"/>
<line x1="192" y1="541.9" x2="217.5" y2="541.9" stroke="#1c1c1c" stroke-width="1.3" stroke-dasharray="3 1.6"/>
<line x1="215.2" y1="541.5" x2="215.2" y2="549.5" stroke="#1c1c1c" stroke-width="0.9" stroke-dasharray="2.2 1.4"/>
<line x1="198" y1="552.8" x2="216" y2="552.8" stroke="#1c1c1c" stroke-width="0.9" stroke-dasharray="3 1.6"/>
<line x1="198" y1="556.7" x2="212" y2="556.7" stroke="#1c1c1c" stroke-width="0.9" stroke-dasharray="3 1.6"/>
<path d="M220,556.6 Q208,559 199.6,573" fill="none" stroke="#1c1c1c" stroke-width="0.9" stroke-linejoin="round" stroke-dasharray="2.6 1.6"/>
<path d="M220,561 Q211,563.4 204.6,574" fill="none" stroke="#1c1c1c" stroke-width="0.9" stroke-linejoin="round" stroke-dasharray="2.6 1.6"/>
<path d="M247.2,548.6 V544 Q247.2,541.5 249.8,541.5 H290.7 Q293.4,541.5 293.4,544.2 V625.4 H263.2" fill="none" stroke="#1c1c1c" stroke-width="1.62" stroke-linejoin="round"/>
<path d="M245.5,548.9 H260.8 Q263.2,548.9 263.2,551.4 V625.4 Q263.2,627.9 260.6,627.9 H245.5" fill="none" stroke="#1c1c1c" stroke-width="1.62" stroke-linejoin="round"/>
<path d="M284.8,619.6 V556.5 Q284.8,554 286.6,553" fill="none" stroke="#1c1c1c" stroke-width="1.0" stroke-linejoin="round"/>
<line x1="255.2" y1="555.6" x2="281.6" y2="555.6" stroke="#1c1c1c" stroke-width="1.3" stroke-dasharray="3 1.6"/>
<path d="M281.6,555.6 Q285,553 286.4,543.6" fill="none" stroke="#1c1c1c" stroke-width="1.0" stroke-linejoin="round" stroke-dasharray="2.6 1.5"/>
<line x1="255.7" y1="543.6" x2="255.7" y2="563" stroke="#1c1c1c" stroke-width="1.0" stroke-dasharray="2.6 1.6"/>
<path d="M285,584.6 H292.6 M285,594.2 H292.6" fill="none" stroke="#1c1c1c" stroke-width="0.8" stroke-linejoin="round" stroke-dasharray="1.5 1.5"/>
<line x1="295.3" y1="557.2" x2="295.3" y2="621.2" stroke="#1c1c1c" stroke-width="1.2"/>
<line x1="297" y1="557.6" x2="297" y2="620.8" stroke="#1c1c1c" stroke-width="1.6"/>
<line x1="293.1" y1="557.4" x2="394" y2="557.4" stroke="#2a2a2a" stroke-width="0.9"/>
<line x1="293.1" y1="621.2" x2="394" y2="621.2" stroke="#2a2a2a" stroke-width="0.9"/>
<path d="M297.6,581.8 H343.4 L344.9,583.2 V594.2 L343.4,595.6 H297.6" fill="none" stroke="#1c1c1c" stroke-width="1.33" stroke-linejoin="round"/>
<line x1="343.4" y1="582" x2="343.4" y2="595.5" stroke="#1c1c1c" stroke-width="0.8"/>
<path d="M313.6,581.9 V579.9 H343.4" fill="none" stroke="#1c1c1c" stroke-width="1.28" stroke-linejoin="round"/>
<line x1="166.6" y1="588.8" x2="222" y2="588.8" stroke="#1c1c1c" stroke-width="0.9" stroke-dasharray="14 3 4 3"/>
<line x1="222" y1="588.8" x2="350" y2="588.8" stroke="#1c1c1c" stroke-width="0.8" stroke-dasharray="18 3 4 3"/>
<line x1="292.8" y1="517.7" x2="344.9" y2="517.7" stroke="#2a2a2a" stroke-width="0.9"/>
<polygon points="292.9,517.7 298.3,516.7 298.3,518.7" fill="#2a2a2a"/>
<polygon points="344.9,517.7 339.5,518.7 339.5,516.7" fill="#2a2a2a"/>
<line x1="344.9" y1="517.7" x2="352" y2="517.7" stroke="#2a2a2a" stroke-width="0.9"/>
<line x1="344.9" y1="512.3" x2="344.9" y2="579.4" stroke="#2a2a2a" stroke-width="0.9"/>
<text x="354.5" y="521.06" font-size="8.3" fill="#222" stroke="#222" stroke-width="0.22" xml:space="preserve">67,6 (2.66)</text>
<line x1="282.2" y1="530.5" x2="292.8" y2="530.5" stroke="#2a2a2a" stroke-width="0.9"/>
<polygon points="292.8,530.5 287.4,531.5 287.4,529.5" fill="#2a2a2a"/>
<line x1="297.8" y1="530.5" x2="310.8" y2="530.5" stroke="#2a2a2a" stroke-width="0.9"/>
<polygon points="297.8,530.5 303.2,529.5 303.2,531.5" fill="#2a2a2a"/>
<line x1="297.8" y1="525.9" x2="297.8" y2="556" stroke="#2a2a2a" stroke-width="0.9"/>
<text x="313.2" y="533.86" font-size="8.3" fill="#222" stroke="#222" stroke-width="0.22" xml:space="preserve">4 (.156)</text>
<path d="M359.9,535.6 H354.4 L336.8,579.2" fill="none" stroke="#2a2a2a" stroke-width="0.9" stroke-linejoin="round"/>
<polygon points="336.8,579.2 337.89,573.82 339.75,574.57" fill="#2a2a2a"/>
<rect x="360.3" y="532.4" width="5.4" height="5.6" rx="0" fill="none" stroke="#222" stroke-width="0.8"/>
<text x="367.4" y="538.46" font-size="8.3" fill="#222" stroke="#222" stroke-width="0.22" xml:space="preserve">4,76 (.1875)</text>
<text x="417.8" y="538.21" font-size="7.6" fill="#222" stroke="#222" stroke-width="0.22" xml:space="preserve">×</text>
<text x="428.3" y="538.46" font-size="8.3" fill="#222" stroke="#222" stroke-width="0.22" xml:space="preserve">41,1 (1.62)</text>
<text class="s" x="360" y="548.9" font-size="7.6" fill="#222" stroke="#222" stroke-width="0.18">长键</text>
<line x1="392" y1="557.4" x2="392" y2="621.2" stroke="#2a2a2a" stroke-width="0.9"/>
<polygon points="392,557.4 393,562.8 391,562.8" fill="#2a2a2a"/>
<polygon points="392,621.2 391,615.8 393,615.8" fill="#2a2a2a"/>
<rect x="371.5" y="568.5" width="62" height="21" rx="0" fill="#fff" stroke="none" stroke-width="0"/>
<circle cx="375.2" cy="574.5" r="2.15" fill="none" stroke="#222" stroke-width="1.05"/>
<line x1="373.5" y1="576.9" x2="376.9" y2="572.1" stroke="#222" stroke-width="0.7"/>
<text x="381.4" y="577.06" font-size="8.3" fill="#222" stroke="#222" stroke-width="0.22" xml:space="preserve">82,55/82,50</text>
<text x="372.6" y="586.86" font-size="8.3" fill="#222" stroke="#222" stroke-width="0.22" xml:space="preserve">(3.250/3.248)</text>
<line x1="345" y1="581.8" x2="360.4" y2="581.8" stroke="#2a2a2a" stroke-width="0.9"/>
<line x1="345" y1="595.6" x2="360.4" y2="595.6" stroke="#2a2a2a" stroke-width="0.9"/>
<line x1="351.7" y1="581.9" x2="351.7" y2="655.4" stroke="#2a2a2a" stroke-width="0.9"/>
<polygon points="351.7,581.9 352.6,586.5 350.8,586.5" fill="#2a2a2a"/>
<polygon points="351.7,595.6 350.8,591 352.6,591" fill="#2a2a2a"/>
<line x1="327.5" y1="655.4" x2="351.7" y2="655.4" stroke="#2a2a2a" stroke-width="0.9"/>
<circle cx="287" cy="644.9" r="2.15" fill="none" stroke="#222" stroke-width="1.05"/>
<line x1="285.3" y1="647.3" x2="288.7" y2="642.5" stroke="#222" stroke-width="0.7"/>
<text x="293.2" y="647.46" font-size="8.3" fill="#222" stroke="#222" stroke-width="0.22" xml:space="preserve">19,05/19,02</text>
<text x="284.4" y="657.66" font-size="8.3" fill="#222" stroke="#222" stroke-width="0.22" xml:space="preserve">(.750/.749)</text>
<line x1="359.9" y1="579.9" x2="359.9" y2="666.2" stroke="#2a2a2a" stroke-width="0.9"/>
<line x1="344.9" y1="579.9" x2="360" y2="579.9" stroke="#2a2a2a" stroke-width="0.9"/>
<polygon points="359.9,579.9 360.8,584.5 359,584.5" fill="#2a2a2a"/>
<polygon points="359.9,595.6 359,591 360.8,591" fill="#2a2a2a"/>
<line x1="359.9" y1="666.2" x2="366.7" y2="666.2" stroke="#2a2a2a" stroke-width="0.9"/>
<text x="368.9" y="669.26" font-size="8.3" fill="#222" stroke="#222" stroke-width="0.22" xml:space="preserve">21.1/21,0</text>
<text x="368.9" y="678.86" font-size="8.3" fill="#222" stroke="#222" stroke-width="0.22" xml:space="preserve">(.832/.827)</text>
<text class="s" x="505.4" y="480.8" font-size="8.2" fill="#222" stroke="#222" stroke-width="0.18">顺时针旋转</text>
<path d="M517,495.4 Q527,493.4 536,496" fill="none" stroke="#1c1c1c" stroke-width="1.28" stroke-linejoin="round"/>
<polygon points="541.8,498.1 535.12,497.09 536.16,494.38" fill="#1c1c1c"/>
<path d="M507.8,496.6 L517.6,493.7" fill="none" stroke="#1c1c1c" stroke-width="1.74" stroke-linejoin="round"/>
<path d="M508.6,498.7 L517.4,496" fill="none" stroke="#1c1c1c" stroke-width="1.74" stroke-linejoin="round"/>
<path d="M507.8,496.6 L508.6,498.7" fill="none" stroke="#1c1c1c" stroke-width="1.0" stroke-linejoin="round"/>
<line x1="480.6" y1="513.2" x2="480.6" y2="600" stroke="#2a2a2a" stroke-width="0.9"/>
<line x1="562.8" y1="513.2" x2="562.8" y2="600.6" stroke="#2a2a2a" stroke-width="0.9"/>
<line x1="480.6" y1="516.6" x2="494.5" y2="516.6" stroke="#2a2a2a" stroke-width="0.9"/>
<line x1="546.5" y1="516.6" x2="562.8" y2="516.6" stroke="#2a2a2a" stroke-width="0.9"/>
<polygon points="480.6,516.6 486,515.6 486,517.6" fill="#2a2a2a"/>
<polygon points="562.8,516.6 557.4,517.6 557.4,515.6" fill="#2a2a2a"/>
<text x="496" y="519.86" font-size="8.3" fill="#222" stroke="#222" stroke-width="0.22" xml:space="preserve">106,3 (4.187)</text>
<line x1="522.3" y1="528.1" x2="570.6" y2="528.1" stroke="#2a2a2a" stroke-width="0.9"/>
<polygon points="522.3,528.1 527.7,527.1 527.7,529.1" fill="#2a2a2a"/>
<polygon points="562.8,528.1 557.4,529.1 557.4,527.1" fill="#2a2a2a"/>
<text x="573.8" y="530.76" font-size="8.3" fill="#222" stroke="#222" stroke-width="0.22" xml:space="preserve">53,2</text>
<text x="573.8" y="541.86" font-size="8.3" fill="#222" stroke="#222" stroke-width="0.22" xml:space="preserve">(2.093)</text>
<path d="M495.9,553.2 V542.4 Q495.9,539.3 499,539.3 H548.2 Q551.3,539.3 551.3,542.4 V553.2" fill="none" stroke="#1c1c1c" stroke-width="1.62" stroke-linejoin="round"/>
<path d="M497.5,541.2 H549.6" fill="none" stroke="#1c1c1c" stroke-width="1.0" stroke-linejoin="round"/>
<path d="M495.9,548.6 Q488.6,548.4 485.4,555.6 Q482.8,563 481.6,573" fill="none" stroke="#1c1c1c" stroke-width="1.51" stroke-linejoin="round"/>
<path d="M489.4,555.4 Q486.2,561 485,569.5" fill="none" stroke="#1c1c1c" stroke-width="1.0" stroke-linejoin="round"/>
<path d="M495.9,628.8 Q488.6,629 485.4,621.8 Q482.8,614.4 481.6,604.4" fill="none" stroke="#1c1c1c" stroke-width="1.51" stroke-linejoin="round"/>
<path d="M489.4,622 Q486.2,616.4 485,607.9" fill="none" stroke="#1c1c1c" stroke-width="1.0" stroke-linejoin="round"/>
<path d="M551.3,548.6 Q558.6,548.4 561.8,555.6 Q564.4,563 565.6,573" fill="none" stroke="#1c1c1c" stroke-width="1.51" stroke-linejoin="round"/>
<path d="M557.8,555.4 Q561,561 562.2,569.5" fill="none" stroke="#1c1c1c" stroke-width="1.0" stroke-linejoin="round"/>
<path d="M551.3,628.8 Q558.6,629 561.8,621.8 Q564.4,614.4 565.6,604.4" fill="none" stroke="#1c1c1c" stroke-width="1.51" stroke-linejoin="round"/>
<path d="M557.8,622 Q561,616.4 562.2,607.9" fill="none" stroke="#1c1c1c" stroke-width="1.0" stroke-linejoin="round"/>
<path d="M495.9,628.8 Q499,628.5 552,628.5" fill="none" stroke="#1c1c1c" stroke-width="1.39" stroke-linejoin="round"/>
<path d="M497,629.2 L503.6,632 H544.6 L551.6,628.8" fill="none" stroke="#1c1c1c" stroke-width="1.39" stroke-linejoin="round"/>
<path d="M506.02,556.71 L479.59,572.91 Q474.9,575.51 474.3,580.4 L474.3,595.6 Q474.9,600.49 479.59,603.09 L506.02,619.29 A36.7,36.7 0 0 0 544.38,619.29 L570.81,603.09 Q575.5,600.49 576.1,595.6 L576.1,580.4 Q575.5,575.51 570.81,572.91 L544.38,556.71 A36.7,36.7 0 0 0 506.02,556.71 Z" fill="#fff" stroke="#1c1c1c" stroke-width="1.74" stroke-linejoin="round"/>
<circle cx="495.3" cy="558.6" r="4.9" fill="#fff" stroke="#1c1c1c" stroke-width="1.97"/>
<line x1="488.9" y1="558.6" x2="501.7" y2="558.6" stroke="#1c1c1c" stroke-width="0.7" stroke-dasharray="2 1.2"/>
<line x1="495.3" y1="552.2" x2="495.3" y2="565" stroke="#1c1c1c" stroke-width="0.7" stroke-dasharray="2 1.2"/>
<circle cx="554.2" cy="558.6" r="4.9" fill="#fff" stroke="#1c1c1c" stroke-width="1.97"/>
<line x1="547.8" y1="558.6" x2="560.6" y2="558.6" stroke="#1c1c1c" stroke-width="0.7" stroke-dasharray="2 1.2"/>
<line x1="554.2" y1="552.2" x2="554.2" y2="565" stroke="#1c1c1c" stroke-width="0.7" stroke-dasharray="2 1.2"/>
<circle cx="495.8" cy="618.8" r="4.9" fill="#fff" stroke="#1c1c1c" stroke-width="1.97"/>
<line x1="489.4" y1="618.8" x2="502.2" y2="618.8" stroke="#1c1c1c" stroke-width="0.7" stroke-dasharray="2 1.2"/>
<line x1="495.8" y1="612.4" x2="495.8" y2="625.2" stroke="#1c1c1c" stroke-width="0.7" stroke-dasharray="2 1.2"/>
<circle cx="554.8" cy="618.8" r="4.9" fill="#fff" stroke="#1c1c1c" stroke-width="1.97"/>
<line x1="548.4" y1="618.8" x2="561.2" y2="618.8" stroke="#1c1c1c" stroke-width="0.7" stroke-dasharray="2 1.2"/>
<line x1="554.8" y1="612.4" x2="554.8" y2="625.2" stroke="#1c1c1c" stroke-width="0.7" stroke-dasharray="2 1.2"/>
<circle cx="523.9" cy="588" r="31.8" fill="none" stroke="#1c1c1c" stroke-width="2.32"/>
<circle cx="524.8" cy="588.9" r="18.6" fill="none" stroke="#1c1c1c" stroke-width="1.51"/>
<circle cx="524.3" cy="588.7" r="7.7" fill="none" stroke="#1c1c1c" stroke-width="2.32"/>
<circle cx="524.3" cy="588.7" r="5.4" fill="none" stroke="#1c1c1c" stroke-width="0.8"/>
<path d="M522.6,581 V578.2 H525.9 V581" fill="none" stroke="#1c1c1c" stroke-width="1.0" stroke-linejoin="round"/>
<circle cx="482.8" cy="588.9" r="4.4" fill="#fff" stroke="#1c1c1c" stroke-width="1.62"/>
<circle cx="566.1" cy="588.9" r="4.4" fill="#fff" stroke="#1c1c1c" stroke-width="1.62"/>
<line x1="466" y1="588.8" x2="584" y2="588.8" stroke="#1c1c1c" stroke-width="1" stroke-dasharray="14 2.5 4 2.5"/>
<line x1="522.5" y1="524.6" x2="522.5" y2="636" stroke="#1c1c1c" stroke-width="1" stroke-dasharray="16 2.5 4 2.5"/>
<path d="M532,555 L504.2,649 H465.8" fill="none" stroke="#2a2a2a" stroke-width="0.9" stroke-linejoin="round"/>
<circle cx="416.4" cy="649.2" r="2.15" fill="none" stroke="#222" stroke-width="1.05"/>
<line x1="414.7" y1="651.6" x2="418.1" y2="646.8" stroke="#222" stroke-width="0.7"/>
<text x="422.6" y="651.76" font-size="8.3" fill="#222" stroke="#222" stroke-width="0.22" xml:space="preserve">95,2 (3.75)</text>
<path d="M438.8,614.9 H463.4 L474.6,597.5 L475.4,591.6" fill="none" stroke="#2a2a2a" stroke-width="0.9" stroke-linejoin="round"/>
<circle cx="411.2" cy="605.2" r="2.15" fill="none" stroke="#222" stroke-width="1.05"/>
<line x1="409.5" y1="607.6" x2="412.9" y2="602.8" stroke="#222" stroke-width="0.7"/>
<text x="417.8" y="607.76" font-size="8.3" fill="#222" stroke="#222" stroke-width="0.22" xml:space="preserve">11,1 (.437)</text>
<text x="408.8" y="617.86" font-size="8.3" fill="#222" stroke="#222" stroke-width="0.22" xml:space="preserve">2</text>
<text class="s" x="415.6" y="617.86" font-size="8.3" fill="#222" stroke="#222" stroke-width="0.18">孔</text>
<path d="M569.5,604.6 L589.8,659.3 H562.2" fill="none" stroke="#2a2a2a" stroke-width="0.9" stroke-linejoin="round"/>
<text x="536.8" y="652.56" font-size="8.3" fill="#222" stroke="#222" stroke-width="0.22" xml:space="preserve">SAE "A"</text>
<text class="s" x="536.8" y="662.6" font-size="8.5" fill="#222" stroke="#222" stroke-width="0.18">法兰</text>
<line x1="471.8" y1="606" x2="471.8" y2="677" stroke="#2a2a2a" stroke-width="0.9"/>
<line x1="572.4" y1="605.6" x2="572.4" y2="677" stroke="#2a2a2a" stroke-width="0.9"/>
<line x1="471.8" y1="674.2" x2="493" y2="674.2" stroke="#2a2a2a" stroke-width="0.9"/>
<line x1="546.5" y1="674.2" x2="572.3" y2="674.2" stroke="#2a2a2a" stroke-width="0.9"/>
<polygon points="471.8,674.2 477.2,673.2 477.2,675.2" fill="#2a2a2a"/>
<polygon points="572.3,674.2 566.9,675.2 566.9,673.2" fill="#2a2a2a"/>
<circle cx="499.2" cy="674.7" r="2.15" fill="none" stroke="#222" stroke-width="1.05"/>
<line x1="497.5" y1="677.1" x2="500.9" y2="672.3" stroke="#222" stroke-width="0.7"/>
<text x="505.2" y="677.26" font-size="8.3" fill="#222" stroke="#222" stroke-width="0.22" xml:space="preserve">130 (5.12)</text>
</svg>
</body></html>
